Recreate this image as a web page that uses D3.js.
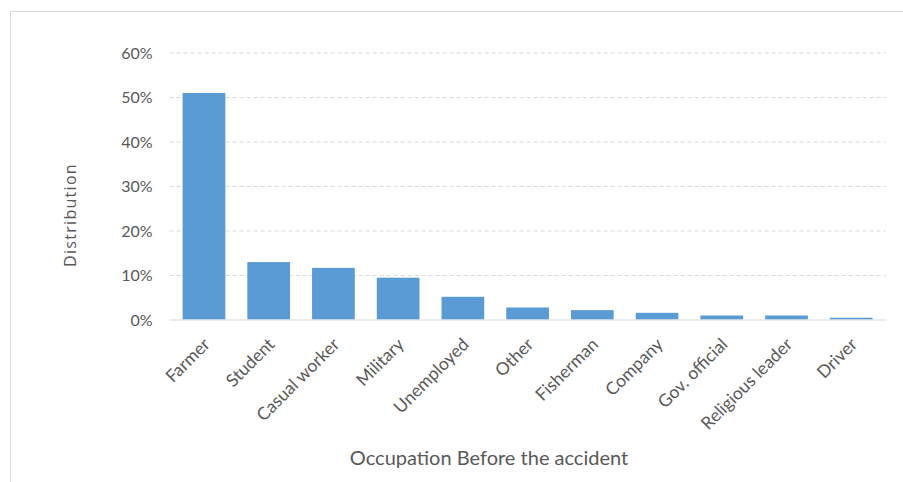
<!DOCTYPE html>
<html>
<head>
<meta charset="utf-8">
<script src="https://cdn.jsdelivr.net/npm/d3@7"></script>
<style>
  html, body { margin: 0; padding: 0; background: #fff; }
  svg { display: block; }
  text { fill: #595959; }
</style>
</head>
<body>
<svg id="chart" width="903" height="482"></svg>
<script>
// Share of cases by occupation held before the accident
const occupations = ["Farmer", "Student", "Casual worker", "Military", "Unemployed", "Other",
  "Fisherman", "Company", "Gov. official", "Religious leader", "Driver"];
const shares = [0.509, 0.129, 0.116, 0.094, 0.051, 0.027, 0.021, 0.015, 0.009, 0.009, 0.004];
const yTicks = [0, 0.1, 0.2, 0.3, 0.4, 0.5, 0.6];
const yTitle = "Distribution";
const xTitle = "Occupation Before the accident";

const W = 903, H = 482;
const plot = { left: 171.6, right: 883.6, top: 52.5, bottom: 319.5 };

const svg = d3.select("#chart");

// outer frame
svg.append("rect")
  .attr("x", 10.5).attr("y", 11.5)
  .attr("width", W).attr("height", H)
  .attr("fill", "none").attr("stroke", "#d9d9d9").attr("stroke-width", 1);

const x = d3.scaleBand()
  .domain(occupations)
  .range([plot.left, plot.right])
  .paddingInner(0.34).paddingOuter(0.17);

const y = d3.scaleLinear()
  .domain([0, 0.6])
  .range([plot.bottom, plot.top]);

// horizontal gridlines
const yAxis = d3.axisLeft(y)
  .tickValues(yTicks)
  .tickFormat(d3.format(".0%"))
  .tickSize(0)
  .tickPadding(0);

const gy = svg.append("g")
  .attr("transform", `translate(${plot.left},0)`)
  .call(yAxis);
gy.select(".domain").remove();
gy.selectAll(".tick line").remove();
gy.selectAll(".tick")
  .filter(d => d > 0)
  .append("line")
  .attr("x1", -2).attr("x2", plot.right - plot.left + 2)
  .attr("stroke", "#d9d9d9")
  .attr("stroke-width", 1)
  .attr("stroke-dasharray", "4,3");
gy.selectAll(".tick text")
  .attr("x", -19)
  .attr("dy", "0.35em")
  .attr("font-family", "Lato, sans-serif")
  .attr("font-size", "16px")
  .style("fill", "#595959");

// bars
svg.append("g")
  .selectAll("rect")
  .data(occupations)
  .join("rect")
  .attr("x", d => x(d))
  .attr("width", x.bandwidth())
  .attr("y", (d, i) => y(shares[i]))
  .attr("height", (d, i) => y(0) - y(shares[i]))
  .attr("fill", "#5b9bd5");

// baseline
svg.append("line")
  .attr("x1", plot.left - 2).attr("x2", plot.right + 2)
  .attr("y1", y(0) + 0.5).attr("y2", y(0) + 0.5)
  .attr("stroke", "#d9d9d9").attr("stroke-width", 1.2);

// category labels, rotated
const xAxis = d3.axisBottom(x).tickSize(0).tickPadding(0);
const gx = svg.append("g")
  .attr("transform", `translate(0,${plot.bottom})`)
  .call(xAxis);
gx.select(".domain").remove();
gx.selectAll(".tick text")
  .attr("text-anchor", "end")
  .attr("font-family", "Lato, sans-serif")
  .attr("font-size", "17.5px")
  .attr("dy", 0)
  .attr("y", 0)
  .attr("transform", "translate(7,26) rotate(-45)")
  .style("fill", "#595959");

// axis titles
svg.append("text")
  .attr("transform", "translate(76,215) rotate(-90)")
  .attr("text-anchor", "middle")
  .attr("font-family", "'Open Sans', sans-serif")
  .attr("font-size", "16px")
  .attr("letter-spacing", "1.3px")
  .text(yTitle);

svg.append("text")
  .attr("x", 489).attr("y", 465)
  .attr("text-anchor", "middle")
  .attr("font-family", "Lato, sans-serif")
  .attr("font-size", "20px")
  .text(xTitle);
</script>
</body>
</html>
